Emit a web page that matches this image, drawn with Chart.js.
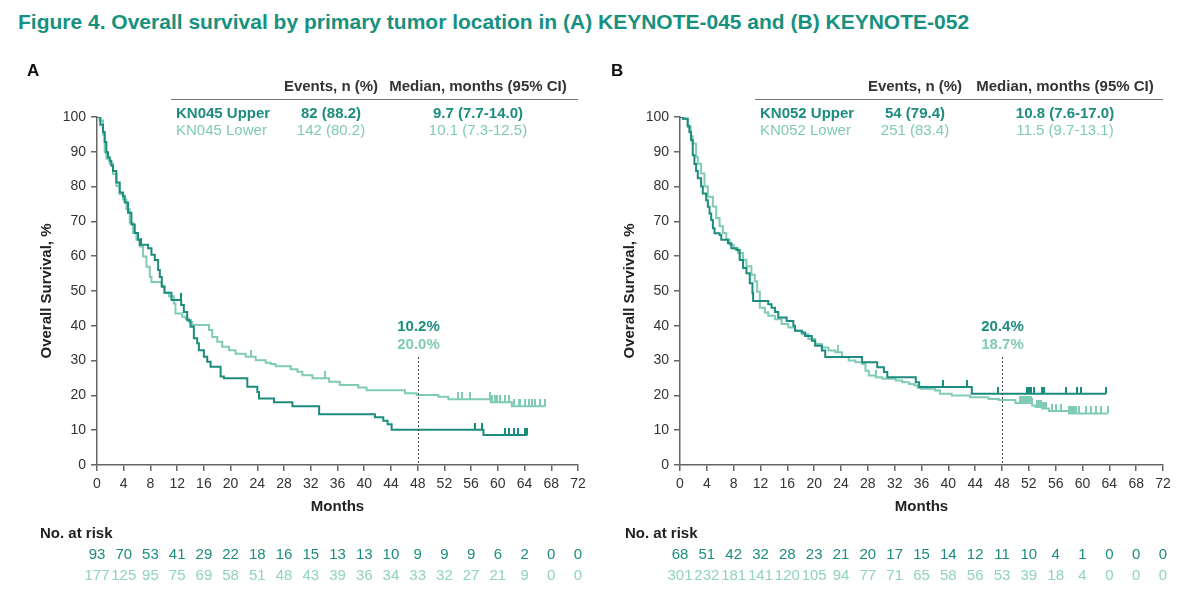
<!DOCTYPE html>
<html>
<head>
<meta charset="utf-8">
<script src="https://cdn.jsdelivr.net/npm/chart.js@4.4.1/dist/chart.umd.min.js"></script>
<style>
  body { margin: 0; background: #fff; width: 1200px; height: 609px; position: relative; overflow: hidden; font-family: "Liberation Sans", Arial, sans-serif; }
  #title { position: absolute; left: 18px; top: 10px; font-size: 21px; line-height: 24px; font-weight: bold; color: #17917f; white-space: nowrap; }
  .panel { position: absolute; top: 0; width: 600px; height: 609px; }
</style>
</head>
<body>
<div id="title">Figure 4. Overall survival by primary tumor location in (A) KEYNOTE-045 and (B) KEYNOTE-052</div>
<div class="panel" style="left:0"><canvas id="chartA"></canvas></div>
<div class="panel" style="left:600px"><canvas id="chartB"></canvas></div>
<script>
const FONT = '"Liberation Sans", Arial, sans-serif';
const DARK = '#1b8c7e';
const LIGHT = '#7fcbb5';

// x axis ticks, months
const monthTicks = [0, 4, 8, 12, 16, 20, 24, 28, 32, 36, 40, 44, 48, 52, 56, 60, 64, 68, 72];

// numbers at risk
const atRiskA_upper = [93, 70, 53, 41, 29, 22, 18, 16, 15, 13, 13, 10, 9, 9, 9, 6, 2, 0, 0];
const atRiskA_lower = [177, 125, 95, 75, 69, 58, 51, 48, 43, 39, 36, 34, 33, 32, 27, 21, 9, 0, 0];
const atRiskB_upper = [68, 51, 42, 32, 28, 23, 21, 20, 17, 15, 14, 12, 11, 10, 4, 1, 0, 0, 0];
const atRiskB_lower = [301, 232, 181, 141, 120, 105, 94, 77, 71, 65, 58, 56, 53, 39, 18, 4, 0, 0, 0];

// KN045 upper (step times, survival % after each step)
const kn045UpperMonths = [0, 0.5, 0.9, 1.15, 1.4, 1.65, 1.9, 2.15, 2.4, 2.9, 3.4, 3.9, 4.15, 4.65, 5.15, 5.65, 6.15, 6.4, 7.65, 8.15, 8.65, 9.15, 9.4, 9.7, 10.1, 11.15, 12.6, 13.0, 13.5, 14.0, 14.5, 15.0, 15.25, 16.0, 16.5, 17.0, 18.5, 19.0, 22.5, 24.0, 24.25, 26.5, 29.25, 33.25, 41.6, 42.85, 43.5, 44.1, 57.85, 64.4];
const kn045UpperOS = [100, 97.8, 95.7, 92.8, 89.9, 88.4, 87.4, 86.0, 84.5, 81.2, 78.3, 77.3, 75.4, 72.5, 69.1, 66.7, 64.7, 63.3, 62.3, 60.4, 58.9, 56.0, 54.0, 51.2, 49.5, 47.4, 46.0, 44.0, 41.6, 39.7, 36.4, 35.0, 33.0, 31.1, 29.7, 28.2, 25.4, 24.9, 22.5, 21.0, 19.1, 18.0, 16.9, 14.6, 13.7, 12.7, 11.7, 10.1, 8.6, 8.6];
const kn045UpperCensor = [6.65, 12.5, 56.6, 57.6, 61.1, 61.6, 62.35, 62.95, 64.1, 64.35];

// KN045 lower
const kn045LowerMonths = [0, 0.4, 0.9, 1.15, 1.4, 1.9, 2.4, 2.9, 3.4, 3.9, 4.4, 4.9, 5.4, 5.9, 6.4, 6.9, 7.4, 7.9, 8.15, 9.65, 10.1, 10.75, 11.5, 11.75, 12.75, 13.25, 13.75, 14.25, 16.75, 17.25, 18.0, 18.75, 19.75, 20.75, 22.25, 23.75, 25.25, 26.0, 26.75, 29.0, 30.0, 30.75, 32.25, 34.75, 36.35, 39.1, 40.35, 46.1, 47.85, 51.1, 52.6, 58.95, 62.1, 67.1];
const kn045LowerOS = [100, 99.0, 95.0, 89.9, 88.0, 86.6, 83.6, 80.2, 77.8, 76.3, 73.5, 69.6, 66.7, 64.7, 62.8, 59.9, 57.0, 54.1, 52.6, 51.5, 49.5, 48.5, 46.4, 43.5, 42.6, 42.0, 41.1, 40.2, 38.8, 36.8, 35.4, 34.0, 33.0, 32.0, 31.1, 30.1, 29.4, 29.0, 28.4, 27.5, 26.8, 25.8, 24.9, 23.9, 23.0, 22.3, 21.5, 20.6, 20.1, 19.6, 18.9, 18.0, 16.9, 16.9];
const kn045LowerCensor = [23.0, 34.2, 54.1, 54.6, 55.85, 58.9, 59.2, 59.6, 59.85, 60.35, 61.1, 61.6, 62.35, 63.1, 63.35, 64.1, 64.6, 65.1, 65.6, 66.35, 67.1];

// KN052 upper
const kn052UpperMonths = [0, 0.4, 1.15, 1.4, 1.65, 1.9, 2.15, 2.4, 2.65, 3.15, 3.4, 3.9, 4.15, 4.4, 4.65, 4.9, 5.15, 5.9, 6.15, 7.15, 7.65, 8.4, 8.9, 9.4, 9.9, 10.4, 10.8, 10.9, 13.15, 13.65, 14.15, 14.65, 15.9, 16.9, 17.15, 18.15, 18.65, 19.65, 20.15, 21.15, 21.65, 27.15, 29.4, 30.4, 30.9, 35.15, 35.65, 43.5, 63.5];
const kn052UpperOS = [100, 99.5, 97.5, 95.7, 93.3, 89.0, 86.5, 84.5, 82.4, 80.0, 78.0, 76.1, 74.2, 72.3, 70.4, 68.0, 66.6, 66.1, 64.7, 63.7, 62.3, 61.8, 58.9, 56.6, 55.1, 52.2, 49.4, 47.1, 46.2, 45.2, 44.0, 42.4, 41.4, 40.0, 38.6, 38.1, 37.1, 35.7, 34.3, 32.9, 31.0, 29.5, 28.1, 26.7, 25.2, 23.8, 22.4, 20.5, 20.5];
const kn052UpperCensor = [39.25, 42.75, 47.4, 51.75, 52.0, 52.25, 52.75, 54.0, 54.25, 57.6, 59.25, 59.75, 63.5];

// KN052 lower
const kn052LowerMonths = [0, 0.6, 1.15, 1.6, 1.9, 2.4, 2.65, 3.15, 3.65, 4.15, 4.9, 5.4, 5.9, 6.4, 6.9, 7.4, 8.0, 8.65, 9.4, 9.9, 10.65, 11.15, 11.5, 11.9, 12.65, 13.15, 14.15, 15.15, 16.15, 17.15, 18.15, 19.15, 20.15, 21.15, 22.15, 23.15, 24.15, 25.15, 26.15, 27.15, 27.65, 28.15, 29.15, 30.15, 32.15, 33.15, 34.15, 34.9, 35.4, 35.9, 38.0, 38.75, 40.5, 43.25, 46.0, 47.5, 50.0, 52.5, 53.0, 54.0, 55.0, 58.0, 63.75];
const kn052LowerOS = [100, 99.5, 97.1, 94.5, 92.4, 88.6, 86.6, 83.8, 80.0, 77.1, 74.3, 71.0, 68.6, 66.7, 64.8, 63.3, 62.3, 60.9, 59.0, 57.1, 54.7, 52.8, 49.8, 45.2, 43.8, 42.9, 41.9, 40.5, 39.5, 38.6, 37.6, 36.2, 34.8, 33.8, 32.9, 32.4, 31.0, 30.0, 29.5, 29.0, 27.1, 25.7, 25.2, 24.8, 24.3, 23.8, 23.3, 22.9, 22.2, 21.9, 21.4, 20.5, 20.0, 19.5, 19.0, 18.7, 17.8, 17.1, 16.7, 16.2, 15.5, 14.8, 14.8];
const kn052LowerCensor = [23.6, 29.2, 50.75, 51.0, 51.25, 51.5, 51.75, 52.0, 52.25, 52.5, 53.25, 53.5, 53.75, 54.0, 54.25, 54.5, 55.5, 56.0, 56.75, 58.0, 58.25, 58.5, 58.75, 59.0, 59.5, 60.5, 61.25, 62.0, 62.75, 63.75];

// legend table rows
const legendA = [
    ['KN045 Upper', '82 (88.2)', '9.7 (7.7-14.0)'],
    ['KN045 Lower', '142 (80.2)', '10.1 (7.3-12.5)']
];
const legendB = [
    ['KN052 Upper', '54 (79.4)', '10.8 (7.6-17.0)'],
    ['KN052 Lower', '251 (83.4)', '11.5 (9.7-13.1)']
];
// OS at 48 months labels
const landmarkA = ['10.2%', '20.0%'];
const landmarkB = ['20.4%', '18.7%'];
const landmarkMonth = 48;

function toPoints(months, values) {
    return months.map((m, i) => ({ x: m, y: values[i] }));
}

// survival value of a step curve at time t (for censor marks)
function stepValue(months, values, t) {
    let v = values[0];
    for (let i = 0; i < months.length; i++) {
        if (months[i] <= t) v = values[i];
    }
    return v;
}

function censorPoints(times, months, values) {
    return times.map(t => ({ x: t, y: stepValue(months, values, t) }));
}

function tickMark(color) {
    const c = document.createElement('canvas');
    c.width = 2;
    c.height = 14;
    const g = c.getContext('2d');
    g.fillStyle = color;
    g.fillRect(0, 0, 2, 7);
    return c;
}

function makeTextPlugin(p) {
    return {
        id: 'panelText' + p.letter,
        afterDraw(chart) {
            const ctx = chart.ctx;
            const xs = chart.scales.x;
            const area = chart.chartArea;
            ctx.save();

            // panel letter
            ctx.fillStyle = '#111';
            ctx.font = 'bold 17px ' + FONT;
            ctx.textAlign = 'left';
            ctx.textBaseline = 'alphabetic';
            ctx.fillText(p.letter, p.letterX, 76);

            // legend table
            ctx.font = 'bold 15px ' + FONT;
            ctx.fillStyle = '#333';
            ctx.textAlign = 'center';
            ctx.fillText('Events, n (%)', p.colEvents, 91);
            ctx.fillText('Median, months (95% CI)', p.colMedian, 91);
            ctx.strokeStyle = '#777';
            ctx.lineWidth = 1;
            ctx.beginPath();
            ctx.moveTo(p.lineLeft, 99.5);
            ctx.lineTo(area.right, 99.5);
            ctx.stroke();
            p.legend.forEach((row, i) => {
                const y = 118 + i * 17;
                ctx.fillStyle = i === 0 ? DARK : LIGHT;
                ctx.font = (i === 0 ? 'bold ' : '') + '15px ' + FONT;
                ctx.textAlign = 'left';
                ctx.fillText(row[0], p.lineLeft + 5, y);
                ctx.textAlign = 'center';
                ctx.fillText(row[1], p.colEvents, y);
                ctx.fillText(row[2], p.colMedian, y);
            });

            // landmark at 48 months
            const lx = Math.round(xs.getPixelForValue(landmarkMonth)) + 0.5;
            ctx.strokeStyle = '#444';
            ctx.lineWidth = 1;
            ctx.setLineDash([2, 2]);
            ctx.beginPath();
            ctx.moveTo(lx, 357);
            ctx.lineTo(lx, area.bottom);
            ctx.stroke();
            ctx.setLineDash([]);
            ctx.font = 'bold 15px ' + FONT;
            ctx.textAlign = 'center';
            ctx.fillStyle = DARK;
            ctx.fillText(p.landmark[0], lx, 331);
            ctx.fillStyle = LIGHT;
            ctx.fillText(p.landmark[1], lx, 349);

            // axis titles
            ctx.fillStyle = '#222';
            ctx.font = 'bold 15px ' + FONT;
            ctx.fillText('Months', (area.left + area.right) / 2, 511);
            ctx.save();
            ctx.translate(p.yTitleX, (area.top + area.bottom) / 2);
            ctx.rotate(-Math.PI / 2);
            ctx.textBaseline = 'middle';
            ctx.fillText('Overall Survival, %', 0, 0);
            ctx.restore();

            // numbers at risk
            ctx.textAlign = 'left';
            ctx.fillStyle = '#222';
            ctx.fillText('No. at risk', p.riskX, 538);
            ctx.font = '15px ' + FONT;
            ctx.textAlign = 'center';
            monthTicks.forEach((m, i) => {
                const x = xs.getPixelForValue(m);
                ctx.fillStyle = DARK;
                ctx.fillText(String(p.riskUpper[i]), x, 559);
                ctx.fillStyle = '#8fd2be';
                ctx.fillText(String(p.riskLower[i]), x, 580);
            });
            ctx.restore();
        }
    };
}

function makeChart(canvasId, p) {
    const ctx = document.getElementById(canvasId).getContext('2d');
    return new Chart(ctx, {
        type: 'line',
        data: {
            datasets: [
                {
                    data: toPoints(p.upperMonths, p.upperOS),
                    borderColor: DARK, borderWidth: 2, stepped: 'before',
                    pointRadius: 0, fill: false, order: 1
                },
                {
                    data: toPoints(p.lowerMonths, p.lowerOS),
                    borderColor: LIGHT, borderWidth: 2, stepped: 'before',
                    pointRadius: 0, fill: false, order: 2
                },
                {
                    data: censorPoints(p.upperCensor, p.upperMonths, p.upperOS),
                    showLine: false, pointStyle: tickMark(DARK), order: 0
                },
                {
                    data: censorPoints(p.lowerCensor, p.lowerMonths, p.lowerOS),
                    showLine: false, pointStyle: tickMark(LIGHT), order: 0
                }
            ]
        },
        options: {
            responsive: true,
            maintainAspectRatio: false,
            animation: false,
            events: [],
            layout: { padding: { left: 0, right: p.padRight, top: 117, bottom: 114 } },
            plugins: { legend: { display: false }, tooltip: { enabled: false } },
            scales: {
                x: {
                    type: 'linear', min: 0, max: 72,
                    afterFit: (scale) => { scale.height = 30; },
                    afterBuildTicks: (scale) => { scale.ticks = monthTicks.map(v => ({ value: v })); },
                    ticks: { autoSkip: false, maxRotation: 0, padding: 5, color: '#333', font: { family: FONT, size: 14 } },
                    grid: { drawOnChartArea: false, drawTicks: true, tickLength: 6, color: '#666', lineWidth: 1.5 },
                    border: { color: '#666', width: 1.5 }
                },
                y: {
                    min: 0, max: 100,
                    afterFit: (scale) => { scale.width = p.yWidth; },
                    ticks: { stepSize: 10, padding: 5, color: '#333', font: { family: FONT, size: 14 } },
                    grid: { drawOnChartArea: false, drawTicks: true, tickLength: 6, color: '#666', lineWidth: 1.5 },
                    border: { color: '#666', width: 1.5 }
                }
            }
        },
        plugins: [makeTextPlugin(p)]
    });
}

makeChart('chartA', {
    letter: 'A', letterX: 27, yWidth: 97, padRight: 22,
    colEvents: 331, colMedian: 478, lineLeft: 171, yTitleX: 47, riskX: 40,
    legend: legendA, landmark: landmarkA,
    riskUpper: atRiskA_upper, riskLower: atRiskA_lower,
    upperMonths: kn045UpperMonths, upperOS: kn045UpperOS, upperCensor: kn045UpperCensor,
    lowerMonths: kn045LowerMonths, lowerOS: kn045LowerOS, lowerCensor: kn045LowerCensor
});

makeChart('chartB', {
    letter: 'B', letterX: 11, yWidth: 80, padRight: 37,
    colEvents: 315, colMedian: 465, lineLeft: 155, yTitleX: 30, riskX: 25,
    legend: legendB, landmark: landmarkB,
    riskUpper: atRiskB_upper, riskLower: atRiskB_lower,
    upperMonths: kn052UpperMonths, upperOS: kn052UpperOS, upperCensor: kn052UpperCensor,
    lowerMonths: kn052LowerMonths, lowerOS: kn052LowerOS, lowerCensor: kn052LowerCensor
});
</script>
</body>
</html>
